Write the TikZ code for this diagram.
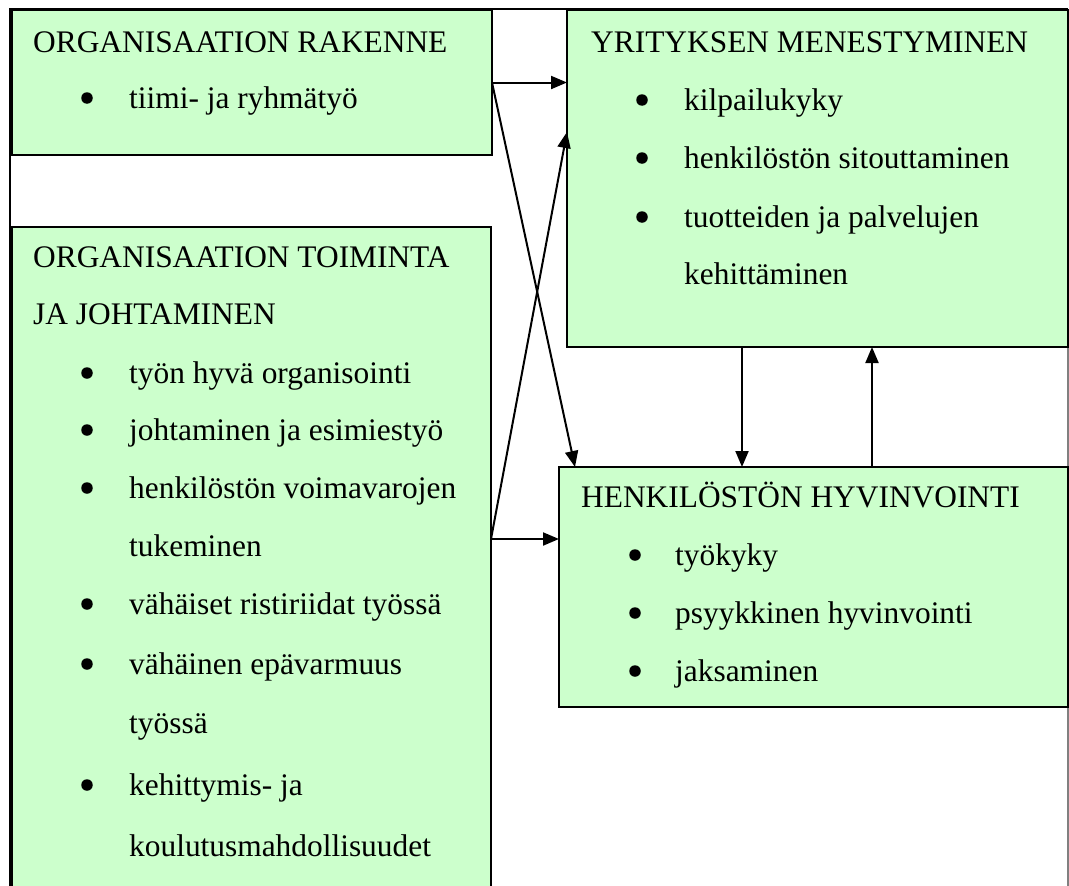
\documentclass[tikz,border=0pt]{standalone}
\usepackage{fontspec}
\setmainfont{Liberation Serif}
\usetikzlibrary{arrows.meta}
\definecolor{boxgreen}{HTML}{CCFFCC}
\definecolor{framegray}{HTML}{808080}
\begin{document}
\begin{tikzpicture}[x=1pt,y=-1pt,
  box/.style={draw=black,fill=boxgreen,line width=2pt,inner sep=0pt,outer sep=0pt,anchor=north west},
  txt/.style={anchor=base west,inner sep=0pt,font=\fontsize{31.4}{36}\selectfont},
  bul/.style={circle,fill=black,inner sep=0pt,minimum size=11.5pt},
  arr/.style={line width=2pt,-{Triangle[length=16pt,width=13pt]}}]
\useasboundingbox (0,0) rectangle (1069,886);
\fill[white] (0,0) rectangle (1069,886);
% outer frame
\draw[line width=2pt] (10,890) -- (10,9) -- (1068,9);
\draw[framegray,line width=1.5pt] (1068,9) -- (1068,890);
% boxes
\node[box,minimum width=480pt,minimum height=145pt] (b1) at (12,10) {};
\node[box,minimum width=479pt,minimum height=690pt] (b2) at (12,227) {};
\node[box,minimum width=501pt,minimum height=337pt] (b3) at (567,10) {};
\node[box,minimum width=509pt,minimum height=240pt] (b4) at (559,467) {};
% box 1 text
\node[txt] (h1) at (33,52) {ORGANISAATION RAKENNE};
\node[bul] (p1a) at (87,98) {};
\node[txt] (t1a) at (129,108) {tiimi- ja ryhmätyö};
% box 3 text
\node[txt] (h3) at (591,52) {YRITYKSEN MENESTYMINEN};
\node[bul] (p3a) at (642,100) {};
\node[txt] (t3a) at (684,110) {kilpailukyky};
\node[bul] (p3b) at (642,158) {};
\node[txt] (t3b) at (684,168) {henkilöstön sitouttaminen};
\node[bul] (p3c) at (642,217) {};
\node[txt] (t3c) at (684,227) {tuotteiden ja palvelujen};
\node[txt] (t3d) at (684,284) {kehittäminen};
% box 2 text
\node[txt] (h2a) at (33,267) {ORGANISAATION TOIMINTA};
\node[txt] (h2b) at (33,324) {JA JOHTAMINEN};
\node[bul] (p2a) at (87,373) {};
\node[txt] (t2a) at (129,383) {työn hyvä organisointi};
\node[bul] (p2b) at (87,430) {};
\node[txt] (t2b) at (129,440) {johtaminen ja esimiestyö};
\node[bul] (p2c) at (87,488) {};
\node[txt] (t2c) at (129,498) {henkilöstön voimavarojen};
\node[txt] (t2d) at (129,556) {tukeminen};
\node[bul] (p2e) at (87,604) {};
\node[txt] (t2e) at (129,614) {vähäiset ristiriidat työssä};
\node[bul] (p2f) at (87,664) {};
\node[txt] (t2f) at (129,674) {vähäinen epävarmuus};
\node[txt] (t2g) at (129,733) {työssä};
\node[bul] (p2h) at (87,785) {};
\node[txt] (t2h) at (129,795) {kehittymis- ja};
\node[txt] (t2i) at (129,856) {koulutusmahdollisuudet};
% box 4 text
\node[txt] (h4) at (581,507) {HENKILÖSTÖN HYVINVOINTI};
\node[bul] (p4a) at (635,555) {};
\node[txt] (t4a) at (675,565) {työkyky};
\node[bul] (p4b) at (635,613) {};
\node[txt] (t4b) at (675,623) {psyykkinen hyvinvointi};
\node[bul] (p4c) at (635,671) {};
\node[txt] (t4c) at (675,681) {jaksaminen};
% connector end points
\coordinate (s1) at (b1.east);
\coordinate (s2) at (b2.east |- 0,539);
\coordinate (e3a) at (b3.west |- s1);
\coordinate (e3b) at (b3.west |- 0,132);
\coordinate (e4a) at (575,467);
\coordinate (e4b) at (b4.west |- s2);
\coordinate (d1) at (742,347);
\coordinate (d2) at (742,467);
\coordinate (u1) at (872,467);
\coordinate (u2) at (872,347);
% connectors
\draw[arr] (s1) -- (e3a);
\draw[arr] (s1) -- (e4a);
\draw[arr] (s2) -- (e3b);
\draw[arr] (s2) -- (e4b);
\draw[arr] (d1) -- (d2);
\draw[arr] (u1) -- (u2);
\end{tikzpicture}
\end{document}
